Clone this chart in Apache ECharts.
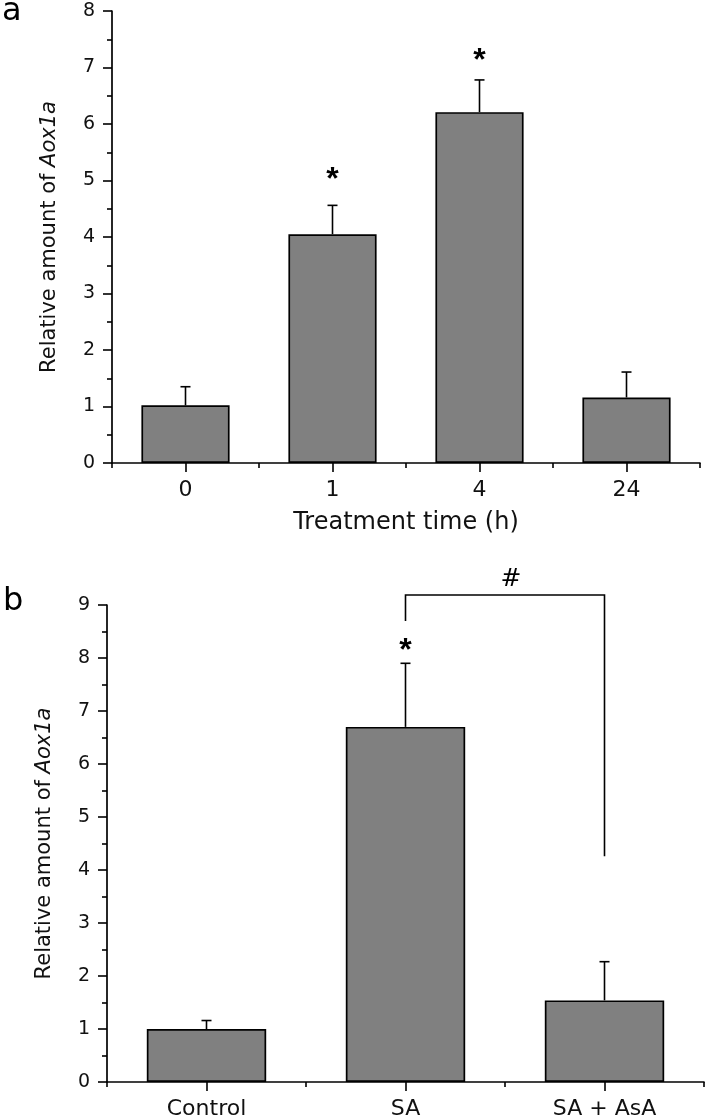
<!DOCTYPE html>
<html><head><meta charset="utf-8">
<script src="https://cdn.jsdelivr.net/npm/echarts@6/dist/echarts.min.js"></script>
<style>html,body{margin:0;padding:0;background:#fff}#c{width:709px;height:1120px}</style>
</head><body><div id="c"></div>
<script>
// ---- Panel a data ----
var catsA = ['0', '1', '4', '24'];
var meanA = [1.02, 4.05, 6.21, 1.16];
var errA = [0.33, 0.51, 0.57, 0.45];
var starA = ['', '*', '*', ''];
var starPosA = [null, 5.0, 7.12, null];
var yTicksA = [0, 8, 1];
// ---- Panel b data ----
var catsB = ['Control', 'SA', 'SA + AsA'];
var meanB = [1.0, 6.7, 1.54];
var errB = [0.16, 1.2, 0.73];
var starB = ['', '*', ''];
var starPosB = [null, 8.12, null];
var yTicksB = [0, 9, 1];
// bracket between SA and SA + AsA: [leftBottom, top, rightBottom]
var bracketCats = [1, 2];
var bracketY = [8.7, 9.19, 4.26];
var bracketLabel = '#';

var FONT = 'DejaVu Sans';
var chart = echarts.init(document.getElementById('c'), null, {renderer: 'canvas'});

function errRender(params, api) {
  var x = api.value(0), v = api.value(1), e = api.value(2);
  var p0 = api.coord([x, v]), p1 = api.coord([x, v + e]);
  var hw = 5;
  return {type: 'group', children: [
    {type: 'line', shape: {x1: p0[0], y1: p0[1], x2: p1[0], y2: p1[1]}, style: {stroke: '#000', lineWidth: 1.6}},
    {type: 'line', shape: {x1: p1[0] - hw, y1: p1[1], x2: p1[0] + hw, y2: p1[1]}, style: {stroke: '#000', lineWidth: 1.6}}
  ]};
}
function makeStarRender(labels) {
  return function (params, api) {
    var idx = api.value(0);
    var p = api.coord([idx, api.value(1)]);
    return {type: 'text', x: p[0], y: p[1], style: {text: labels[idx], font: 'bold 32px "Liberation Sans"', fill: '#000',
      align: 'center', verticalAlign: 'middle', textAlign: 'center', textVerticalAlign: 'middle'}};
  };
}
function bracketRender(params, api) {
  var pL0 = api.coord([bracketCats[0], bracketY[0]]);
  var pLT = api.coord([bracketCats[0], bracketY[1]]);
  var pRT = api.coord([bracketCats[1], bracketY[1]]);
  var pR0 = api.coord([bracketCats[1], bracketY[2]]);
  return {type: 'group', children: [
    {type: 'polyline', shape: {points: [pL0, pLT, pRT, pR0]}, style: {stroke: '#000', lineWidth: 1.6, fill: null}},
    {type: 'text', x: (pLT[0] + pRT[0]) / 2 + 6, y: pLT[1] - 3, style: {text: bracketLabel, font: '25px "DejaVu Sans"', fill: '#000',
      align: 'center', verticalAlign: 'bottom', textAlign: 'center', textVerticalAlign: 'bottom'}}
  ]};
}

function errData(means, errs) { return means.map(function (m, i) { return [i, m, errs[i]]; }); }
function starData(pos) { var out = []; pos.forEach(function (p, i) { if (p != null) out.push([i, p]); }); return out; }

var axisLine = {show: true, lineStyle: {color: '#000', width: 1.7}};
function yAxis(gi, t) {
  return {type: 'value', gridIndex: gi, min: t[0], max: t[1], interval: t[2],
    name: 'Relative amount of {i|Aox1a}', nameLocation: 'middle', nameGap: 52,
    nameTextStyle: {fontFamily: FONT, fontSize: 21, color: '#111', rich: {i: {fontFamily: FONT, fontSize: 21, fontStyle: 'italic', color: '#111'}}},
    axisLine: axisLine, axisTick: {show: true, inside: false, length: 9, lineStyle: {color: '#000', width: 1.6}},
    minorTick: {show: true, splitNumber: 2, length: 5, lineStyle: {color: '#000', width: 1.6}},
    splitLine: {show: false}, axisLabel: {fontFamily: FONT, fontSize: 19, color: '#111', margin: 17}};
}
function xAxisMain(gi, cats, name) {
  return {type: 'category', gridIndex: gi, data: cats, boundaryGap: true,
    name: name, nameLocation: 'middle', nameGap: 48, nameTextStyle: {fontFamily: FONT, fontSize: 24, color: '#111'},
    axisLine: axisLine, axisTick: {show: true, alignWithLabel: true, length: 9, lineStyle: {color: '#000', width: 1.6}},
    axisLabel: {fontFamily: FONT, fontSize: 22, color: '#111', margin: 16}, splitLine: {show: false}};
}
function xAxisMinor(gi, cats) {
  return {type: 'category', gridIndex: gi, data: cats, boundaryGap: true, position: 'bottom',
    axisLine: {show: false}, axisTick: {show: true, alignWithLabel: false, length: 5, lineStyle: {color: '#000', width: 1.6}},
    axisLabel: {show: false}, splitLine: {show: false}};
}
var barStyle = {color: '#808080', borderColor: '#000', borderWidth: 1.7};

var option = {
  animation: false,
  backgroundColor: '#fff',
  grid: [
    {left: 112, top: 11, width: 588, height: 452},
    {left: 107, top: 605, width: 597, height: 480}
  ],
  xAxis: [xAxisMain(0, catsA, 'Treatment time (h)'), xAxisMinor(0, catsA), xAxisMain(1, catsB, ''), xAxisMinor(1, catsB)],
  yAxis: [yAxis(0, yTicksA), yAxis(1, yTicksB)],
  graphic: [
    {type: 'text', left: 2, top: -4, style: {text: 'a', font: '32px "DejaVu Sans"', fill: '#000'}},
    {type: 'text', left: 3, top: 586, style: {text: 'b', font: '32px "DejaVu Sans"', fill: '#000'}}
  ],
  series: [
    {type: 'bar', xAxisIndex: 0, yAxisIndex: 0, data: meanA, barWidth: '60%', itemStyle: barStyle, z: 2},
    {type: 'custom', xAxisIndex: 0, yAxisIndex: 0, data: errData(meanA, errA), renderItem: errRender, z: 3, clip: false},
    {type: 'custom', xAxisIndex: 0, yAxisIndex: 0, data: starData(starPosA), renderItem: makeStarRender(starA), z: 4, clip: false},
    {type: 'bar', xAxisIndex: 2, yAxisIndex: 1, data: meanB, barWidth: '60%', itemStyle: barStyle, z: 2},
    {type: 'custom', xAxisIndex: 2, yAxisIndex: 1, data: errData(meanB, errB), renderItem: errRender, z: 3, clip: false},
    {type: 'custom', xAxisIndex: 2, yAxisIndex: 1, data: starData(starPosB), renderItem: makeStarRender(starB), z: 4, clip: false},
    {type: 'custom', xAxisIndex: 2, yAxisIndex: 1, data: [[bracketCats[0], bracketY[1]]], renderItem: bracketRender, z: 4, clip: false}
  ]
};
chart.setOption(option);
</script></body></html>
